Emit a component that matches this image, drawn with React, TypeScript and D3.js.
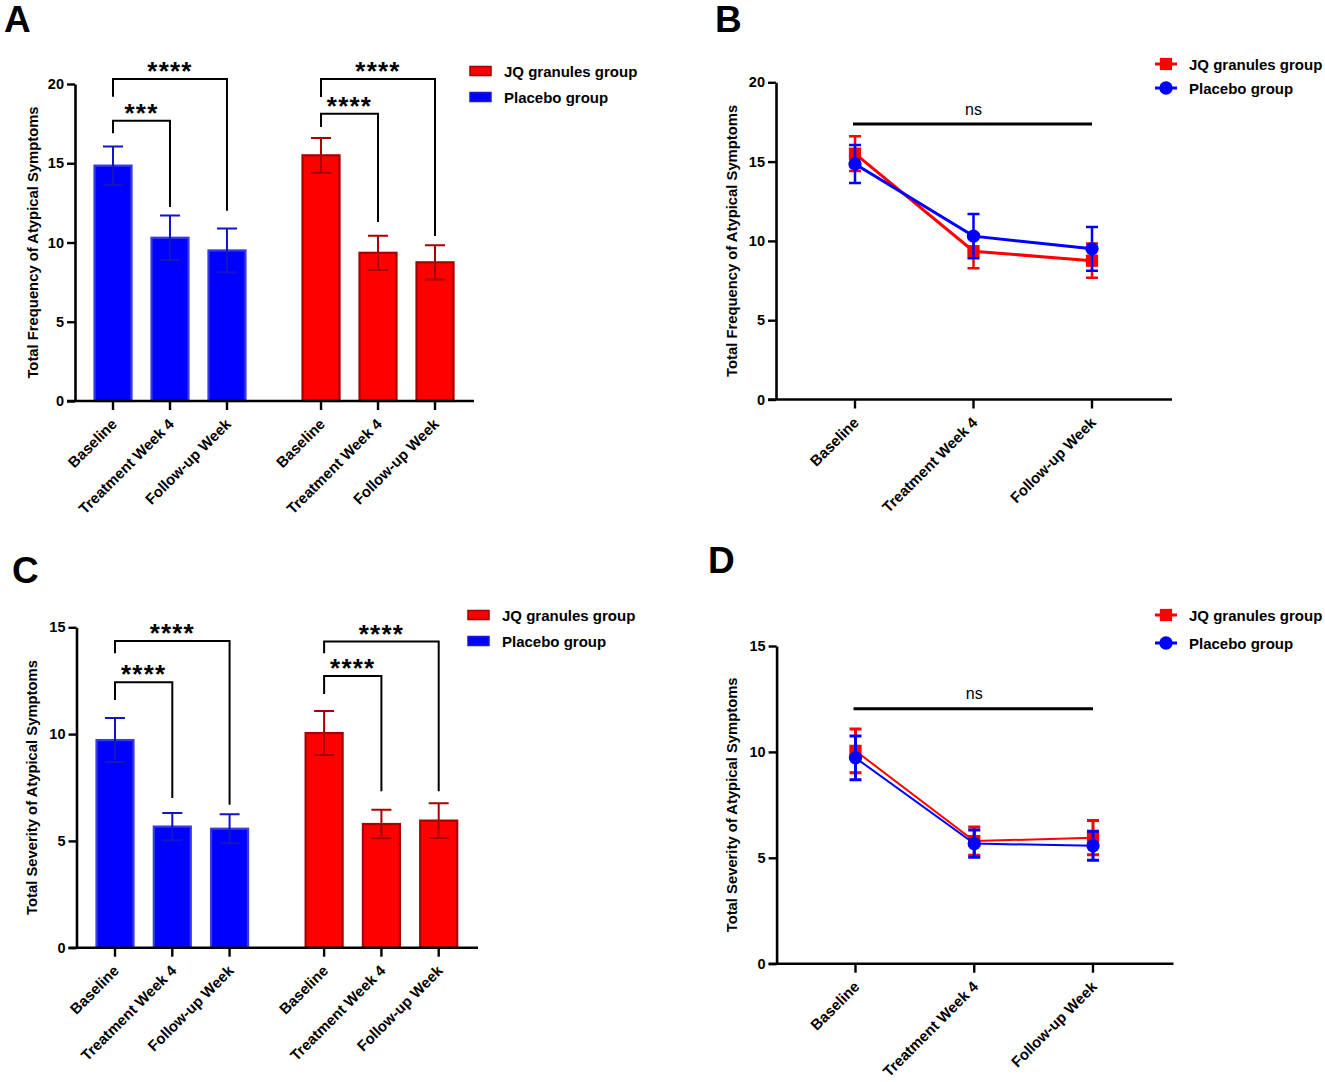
import * as d3 from "d3";
import { useEffect, useRef } from "react";

// categories
const timepoints = ["Baseline", "Treatment Week 4", "Follow-up Week"];
const groupNames = ["JQ granules group", "Placebo group"];

// total frequency (mean, error)
const freqPlacebo = [14.85, 10.3, 9.5];
const freqPlaceboErr = [1.2, 1.4, 1.38];
const freqJQ = [15.5, 9.35, 8.75];
const freqJQErr = [1.1, 1.08, 1.08];

// total severity (mean, error)
const sevPlacebo = [9.72, 5.67, 5.57];
const sevPlaceboErr = [1.03, 0.64, 0.68];
const sevJQ = [10.05, 5.79, 5.95];
const sevJQErr = [1.03, 0.67, 0.81];

const freqTicks = [0, 5, 10, 15, 20];
const sevTicks = [0, 5, 10, 15];

// significance labels: [placebo outer, placebo inner, JQ outer, JQ inner]
const freqStars = ["****", "***", "****", "****"];
const sevStars = ["****", "****", "****", "****"];

const FONT = "Arial, 'Liberation Sans', sans-serif";
const BLUE = "#0000ff";
const RED = "#ff0000";

type Sel = d3.Selection<SVGGElement, unknown, null, undefined>;

function panelLetter(g: Sel, t: string, x: number, y: number) {
  g.append("text")
    .attr("x", x)
    .attr("y", y)
    .attr("font-family", FONT)
    .attr("font-weight", "bold")
    .attr("font-size", 37)
    .text(t);
}

function yAxis(g: Sel, y: d3.ScaleLinear<number, number>, x: number, ticks: number[], title: string, titleX: number) {
  const ax = g
    .append("g")
    .attr("transform", `translate(${x},0)`)
    .call(d3.axisLeft(y).tickValues(ticks).tickSize(8).tickSizeOuter(0).tickPadding(3));
  ax.select(".domain").attr("stroke", "#000").attr("stroke-width", 2.6);
  ax.selectAll(".tick line").attr("stroke", "#000").attr("stroke-width", 2.4);
  ax.selectAll(".tick text")
    .attr("font-family", FONT)
    .attr("font-weight", "bold")
    .attr("font-size", 14.5)
    .attr("fill", "#000");
  const [b, t] = y.range();
  g.append("text")
    .attr("transform", `translate(${titleX},${(b + t) / 2}) rotate(-90)`)
    .attr("text-anchor", "middle")
    .attr("dominant-baseline", "middle")
    .attr("font-family", FONT)
    .attr("font-weight", "bold")
    .attr("font-size", 14.8)
    .text(title);
}

function xAxis(g: Sel, xs: number[], labels: string[], y0: number, x0: number, x1: number) {
  g.append("line")
    .attr("x1", x0)
    .attr("x2", x1)
    .attr("y1", y0)
    .attr("y2", y0)
    .attr("stroke", "#000")
    .attr("stroke-width", 2.6);
  xs.forEach((x, i) => {
    g.append("line")
      .attr("x1", x)
      .attr("x2", x)
      .attr("y1", y0)
      .attr("y2", y0 + 9)
      .attr("stroke", "#000")
      .attr("stroke-width", 2.4);
    g.append("text")
      .attr("transform", `translate(${x + 5},${y0 + 24}) rotate(-45)`)
      .attr("text-anchor", "end")
      .attr("font-family", FONT)
      .attr("font-weight", "bold")
      .attr("font-size", 15)
      .text(labels[i]);
  });
}

function errBar(g: Sel, x: number, yTop: number, yBot: number, cap: number, color: string, w: number) {
  g.append("path")
    .attr(
      "d",
      `M${x},${yTop}V${yBot}M${x - cap / 2},${yTop}H${x + cap / 2}M${x - cap / 2},${yBot}H${x + cap / 2}`
    )
    .attr("stroke", color)
    .attr("stroke-width", w)
    .attr("fill", "none");
}

interface Bracket {
  a: number; // slot index
  b: number;
  level: number; // data units
  leftEnd: number;
  rightEnd: number;
  label: string;
}

interface BarCfg {
  axisX: number;
  bottom: number;
  top: number;
  yMax: number;
  ticks: number[];
  xFirst: number;
  xLast: number;
  axisEnd: number;
  placebo: number[];
  placeboErr: number[];
  jq: number[];
  jqErr: number[];
  brackets: Bracket[];
  title: string;
  titleX: number;
  legendY: number[];
  legendX: number;
}

function barPanel(g: Sel, c: BarCfg) {
  const y = d3.scaleLinear().domain([0, c.yMax]).range([c.bottom, c.top]);
  const slot = d3.scaleLinear().domain([0, 5.65]).range([c.xFirst, c.xLast]);
  const slotIdx = [0, 1, 2, 3.65, 4.65, 5.65];
  const xs = slotIdx.map((s) => slot(s));
  const bw = 37;

  const series = [
    { vals: c.placebo, err: c.placeboErr, fill: BLUE, stroke: "#3a3ae8", eb: "#1414c4", off: 0 },
    { vals: c.jq, err: c.jqErr, fill: RED, stroke: "#a80000", eb: "#a80000", off: 3 },
  ];
  series.forEach((s) => {
    g.selectAll(null)
      .data(s.vals)
      .enter()
      .append("rect")
      .attr("x", (_, i) => xs[s.off + i] - bw / 2)
      .attr("y", (d) => y(d))
      .attr("width", bw)
      .attr("height", (d) => c.bottom - y(d))
      .attr("fill", s.fill)
      .attr("stroke", s.stroke)
      .attr("stroke-width", 2.2);
    s.vals.forEach((v, i) => {
      const x = xs[s.off + i];
      errBar(g, x, y(v + s.err[i]), y(v - s.err[i]), 20, s.eb, 2);
    });
  });

  c.brackets.forEach((b) => {
    const xa = xs[b.a];
    const xb = xs[b.b];
    const ly = y(b.level);
    g.append("path")
      .attr("d", `M${xa},${y(b.leftEnd)}V${ly}H${xb}V${y(b.rightEnd)}`)
      .attr("fill", "none")
      .attr("stroke", "#000")
      .attr("stroke-width", 2);
    g.append("text")
      .attr("x", (xa + xb) / 2)
      .attr("y", ly - 14 + 15)
      .attr("text-anchor", "middle")
      .attr("font-family", FONT)
      .attr("font-weight", "bold")
      .attr("font-size", 26)
      .attr("letter-spacing", 1.2)
      .text(b.label);
  });

  yAxis(g, y, c.axisX, c.ticks, c.title, c.titleX);
  xAxis(g, xs, [...timepoints, ...timepoints], c.bottom, c.axisX - 8, c.axisEnd);

  // legend
  const legend = [
    { name: groupNames[0], fill: RED, stroke: "#a00000" },
    { name: groupNames[1], fill: BLUE, stroke: "#1a1ad0" },
  ];
  legend.forEach((l, i) => {
    g.append("rect")
      .attr("x", c.legendX)
      .attr("y", c.legendY[i] - 4.5)
      .attr("width", 21)
      .attr("height", 9)
      .attr("fill", l.fill)
      .attr("stroke", l.stroke)
      .attr("stroke-width", 1.5);
    g.append("text")
      .attr("x", c.legendX + 34)
      .attr("y", c.legendY[i])
      .attr("dominant-baseline", "central")
      .attr("font-family", FONT)
      .attr("font-weight", "bold")
      .attr("font-size", 15)
      .text(l.name);
  });
}

interface LineCfg {
  axisX: number;
  bottom: number;
  top: number;
  yMax: number;
  ticks: number[];
  xFirst: number;
  xLast: number;
  axisEnd: number;
  placebo: number[];
  placeboErr: number[];
  jq: number[];
  jqErr: number[];
  nsLevel: number;
  title: string;
  titleX: number;
  legendY: number[];
  legendX: number;
  lineW: number;
  ebW: number;
}

function linePanel(g: Sel, c: LineCfg) {
  const y = d3.scaleLinear().domain([0, c.yMax]).range([c.bottom, c.top]);
  const x = d3.scalePoint<string>().domain(timepoints).range([c.xFirst, c.xLast]);
  const line = d3
    .line<number>()
    .x((_, i) => x(timepoints[i])!)
    .y((d) => y(d));

  // ns bracket
  const ny = y(c.nsLevel);
  g.append("line")
    .attr("x1", c.xFirst - 2)
    .attr("x2", c.xLast)
    .attr("y1", ny)
    .attr("y2", ny)
    .attr("stroke", "#000")
    .attr("stroke-width", 3);
  g.append("text")
    .attr("x", (c.xFirst + c.xLast) / 2)
    .attr("y", ny - 15)
    .attr("text-anchor", "middle")
    .attr("dominant-baseline", "central")
    .attr("font-family", FONT)
    .attr("font-size", 16)
    .text("ns");

  const series = [
    { vals: c.jq, err: c.jqErr, color: RED, shape: "square" },
    { vals: c.placebo, err: c.placeboErr, color: BLUE, shape: "circle" },
  ];
  series.forEach((s) => {
    g.append("path")
      .attr("d", line(s.vals)!)
      .attr("fill", "none")
      .attr("stroke", s.color)
      .attr("stroke-width", c.lineW);
    s.vals.forEach((v, i) => {
      const px = x(timepoints[i])!;
      errBar(g, px, y(v + s.err[i]), y(v - s.err[i]), 12, s.color, c.ebW);
    });
    const sym = d3.symbol().type(s.shape === "square" ? d3.symbolSquare : d3.symbolCircle).size(s.shape === "square" ? 150 : 140);
    g.selectAll(null)
      .data(s.vals)
      .enter()
      .append("path")
      .attr("transform", (d, i) => `translate(${x(timepoints[i])},${y(d)})`)
      .attr("d", sym()!)
      .attr("fill", s.color);
  });

  yAxis(g, y, c.axisX, c.ticks, c.title, c.titleX);
  xAxis(g, timepoints.map((t) => x(t)!), timepoints, c.bottom, c.axisX - 8, c.axisEnd);

  series.forEach((s, i) => {
    const ly = c.legendY[i];
    g.append("line")
      .attr("x1", c.legendX - 11)
      .attr("x2", c.legendX + 11)
      .attr("y1", ly)
      .attr("y2", ly)
      .attr("stroke", s.color)
      .attr("stroke-width", 3);
    const sym = d3.symbol().type(s.shape === "square" ? d3.symbolSquare : d3.symbolCircle).size(s.shape === "square" ? 150 : 140);
    g.append("path")
      .attr("transform", `translate(${c.legendX},${ly})`)
      .attr("d", sym()!)
      .attr("fill", s.color);
    g.append("text")
      .attr("x", c.legendX + 23)
      .attr("y", ly)
      .attr("dominant-baseline", "central")
      .attr("font-family", FONT)
      .attr("font-weight", "bold")
      .attr("font-size", 15)
      .text(groupNames[i]);
  });
}

export default function App() {
  const ref = useRef<SVGSVGElement | null>(null);

  useEffect(() => {
    const svg = d3.select(ref.current);
    svg.selectAll("*").remove();
    const root = svg.append("g") as unknown as Sel;

    panelLetter(root, "A", 4, 32);
    panelLetter(root, "B", 715, 32);
    panelLetter(root, "C", 12, 583);
    panelLetter(root, "D", 708, 573);

    barPanel(root, {
      axisX: 75,
      bottom: 401,
      top: 84,
      yMax: 20,
      ticks: freqTicks,
      xFirst: 113,
      xLast: 435,
      axisEnd: 474,
      placebo: freqPlacebo,
      placeboErr: freqPlaceboErr,
      jq: freqJQ,
      jqErr: freqJQErr,
      brackets: [
        { a: 0, b: 2, level: 20.32, leftEnd: 19.2, rightEnd: 12.0, label: freqStars[0] },
        { a: 0, b: 1, level: 17.68, leftEnd: 16.9, rightEnd: 12.24, label: freqStars[1] },
        { a: 3, b: 5, level: 20.32, leftEnd: 19.18, rightEnd: 10.41, label: freqStars[2] },
        { a: 3, b: 4, level: 18.13, leftEnd: 17.29, rightEnd: 11.29, label: freqStars[3] },
      ],
      title: "Total Frequency of Atypical Symptoms",
      titleX: 34,
      legendY: [71, 97],
      legendX: 470,
    });

    barPanel(root, {
      axisX: 76.5,
      bottom: 947.7,
      top: 627.3,
      yMax: 15,
      ticks: sevTicks,
      xFirst: 115,
      xLast: 438.7,
      axisEnd: 478,
      placebo: sevPlacebo,
      placeboErr: sevPlaceboErr,
      jq: sevJQ,
      jqErr: sevJQErr,
      brackets: [
        { a: 0, b: 2, level: 14.36, leftEnd: 13.78, rightEnd: 6.69, label: sevStars[0] },
        { a: 0, b: 1, level: 12.43, leftEnd: 11.6, rightEnd: 7.01, label: sevStars[1] },
        { a: 3, b: 5, level: 14.33, leftEnd: 13.78, rightEnd: 7.32, label: sevStars[2] },
        { a: 3, b: 4, level: 12.72, leftEnd: 11.88, rightEnd: 7.32, label: sevStars[3] },
      ],
      title: "Total Severity of Atypical Symptoms",
      titleX: 33,
      legendY: [615, 641],
      legendX: 468,
    });

    linePanel(root, {
      axisX: 776,
      bottom: 399.5,
      top: 82.3,
      yMax: 20,
      ticks: freqTicks,
      xFirst: 855,
      xLast: 1092,
      axisEnd: 1172,
      placebo: freqPlacebo,
      placeboErr: freqPlaceboErr,
      jq: freqJQ,
      jqErr: freqJQErr,
      nsLevel: 17.37,
      title: "Total Frequency of Atypical Symptoms",
      titleX: 733,
      legendY: [64, 88],
      legendX: 1166,
      lineW: 3,
      ebW: 2.5,
    });

    linePanel(root, {
      axisX: 776.6,
      bottom: 963.7,
      top: 646,
      yMax: 15,
      ticks: sevTicks,
      xFirst: 855.5,
      xLast: 1093,
      axisEnd: 1173.5,
      placebo: sevPlacebo,
      placeboErr: sevPlaceboErr,
      jq: sevJQ,
      jqErr: sevJQErr,
      nsLevel: 12.04,
      title: "Total Severity of Atypical Symptoms",
      titleX: 733,
      legendY: [615, 643],
      legendX: 1166,
      lineW: 2,
      ebW: 3,
    });
  }, []);

  return (
    <svg
      ref={ref}
      width={1325}
      height={1082}
      style={{ position: "absolute", left: 0, top: 0, background: "#fff" }}
    />
  );
}
